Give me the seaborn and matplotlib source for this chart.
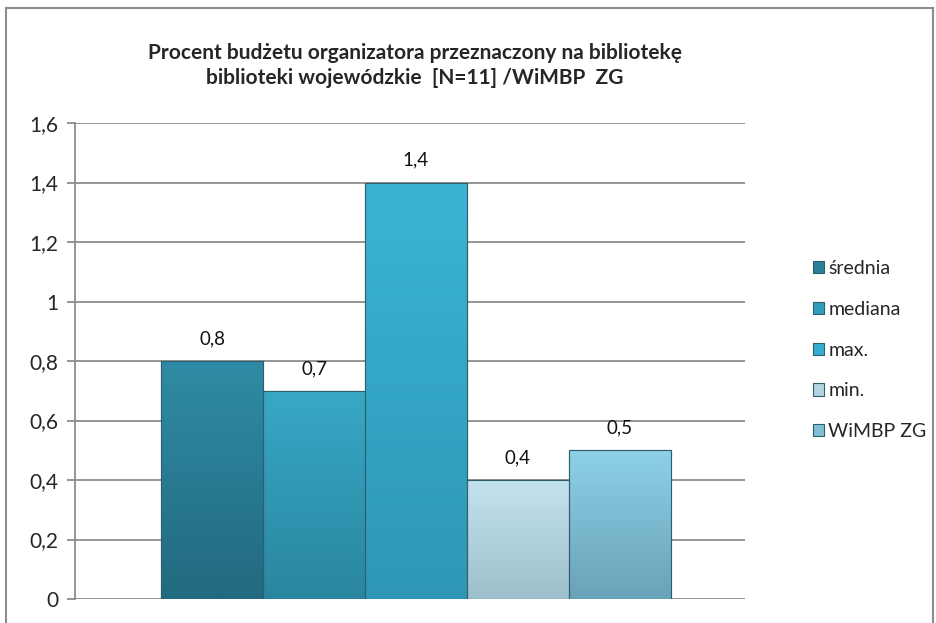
import matplotlib
matplotlib.use("Agg")
import matplotlib.pyplot as plt
import seaborn as sns
import pandas as pd
import numpy as np
from matplotlib.patches import Rectangle
from matplotlib.colors import LinearSegmentedColormap

series = ["średnia", "mediana", "max.", "min.", "WiMBP ZG"]
values = [0.8, 0.7, 1.4, 0.4, 0.5]
colors = ["#2b7f96", "#309fbc", "#35aecf", "#b2d5e3", "#7fbfd6"]
top_colors = ["#2f8ba5", "#37a8c6", "#3ab4d5", "#c4e2ee", "#8dd0e6"]
bottom_colors = ["#226a7f", "#2a86a0", "#2e97b6", "#9dbfcc", "#69a3b9"]
yticks = [0, 0.2, 0.4, 0.6, 0.8, 1.0, 1.2, 1.4, 1.6]
title = "Procent budżetu organizatora przeznaczony na bibliotekę\nbiblioteki wojewódzkie  [N=11] /WiMBP  ZG"

def fmt(v):
    s = f"{v:.1f}".replace(".", ",")
    return s[:-2] if s.endswith(",0") else s

df = pd.DataFrame({"cat": ["x"] * len(series), "series": series, "value": values})

sns.set_theme(style="white")
plt.rcParams["font.family"] = ["Lato", "DejaVu Sans"]

fig = plt.figure(figsize=(9.37, 6.23), dpi=100)
ax = fig.add_axes([0.080, 0.0385, 0.715, 0.764])

sns.barplot(data=df, x="cat", y="value", hue="series", palette=colors,
            hue_order=series, width=0.76, ax=ax, saturation=1,
            edgecolor="#2f5f6c", linewidth=0.8, legend=True)

ax.set_ylim(0, 1.6)
ax.set_xlim(-0.509, 0.491)

# vertical gradient fill for each bar, clipped to the bar shape
for c, tc, bc in zip(ax.containers, top_colors, bottom_colors):
    cmap = LinearSegmentedColormap.from_list("g", [bc, tc])
    grad = np.linspace(0, 1, 100).reshape(-1, 1)
    for b in c:
        x0, y0, w, h = b.get_x(), b.get_y(), b.get_width(), b.get_height()
        im = ax.imshow(grad, extent=[x0, x0 + w, y0, y0 + h], origin="lower",
                       cmap=cmap, aspect="auto", zorder=b.get_zorder() + 0.01)
        im.set_clip_path(b)
        ax.add_patch(Rectangle((x0, y0), w, h, fill=False, edgecolor="#2f5f6c",
                               linewidth=0.8, zorder=b.get_zorder() + 0.02))
ax.set_xlim(-0.509, 0.491)
ax.set_ylim(0, 1.6)

for c in ax.containers:
    ax.bar_label(c, labels=[fmt(b.get_height()) for b in c], padding=10, fontsize=13.5, color="#111111")

ax.set_yticks(yticks)
ax.set_yticklabels([fmt(v) for v in yticks], fontsize=15)
ax.set_xticks([])
ax.set_xlabel("")
ax.set_ylabel("")
ax.yaxis.grid(True, color="#8c8c8c", linewidth=1.3)
ax.set_axisbelow(True)
for s in ["top", "right", "bottom"]:
    ax.spines[s].set_visible(False)
ax.spines["left"].set_color("#8c8c8c")
ax.spines["left"].set_linewidth(1.3)
ax.tick_params(axis="y", length=6, color="#8c8c8c", width=1.3, left=True, pad=6)

leg = ax.legend(loc="center left", bbox_to_anchor=(1.075, 0.523), frameon=False,
                fontsize=14, handlelength=0.6, handleheight=0.6, handletextpad=0.2,
                labelspacing=1.22)

fig.text(0.443, 0.895, title, ha="center", va="center", fontsize=15,
         fontweight="bold", linespacing=1.35)

fig.patches.append(Rectangle((0.006, -0.01), 0.99, 0.997, transform=fig.transFigure,
                             fill=False, edgecolor="#8c8c8c", linewidth=1.5))

fig.savefig("out.png", dpi=100)
